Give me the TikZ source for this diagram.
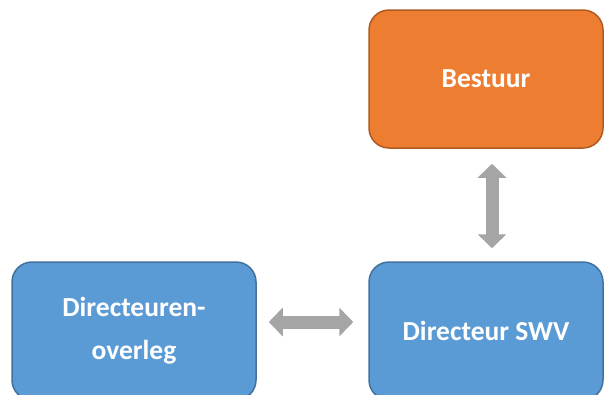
\documentclass[tikz,border=0pt]{standalone}
\usepackage{fontspec}
\setmainfont{Carlito}
\usetikzlibrary{arrows.meta}
\definecolor{orgfill}{HTML}{ED7D31}
\definecolor{orgline}{HTML}{AE5A21}
\definecolor{bluefill}{HTML}{5B9BD5}
\definecolor{blueline}{HTML}{41719C}
\definecolor{arrowgray}{HTML}{A5A5A5}
\tikzset{
  box/.style={rounded corners=20pt, line width=1.5pt, minimum height=138pt,
    align=center, text=white, font=\fontsize{27.5}{43}\selectfont\bfseries},
  orangebox/.style={box, fill=orgfill, draw=orgline, minimum width=234pt},
  bluebox/.style={box, fill=bluefill, draw=blueline},
  blockarrow/.style={arrowgray, line width=13pt,
    {Triangle[width=28pt,length=14pt]}-{Triangle[width=28pt,length=14pt]}}
}
\begin{document}
\begin{tikzpicture}[x=1pt,y=-1pt]
        % Bounding box
        \useasboundingbox (0,0) rectangle (604,394);

        % Blokken
        \node[orangebox] (bestuur) at (486,79) {Bestuur};
        \node[bluebox, minimum width=234pt] (swv) at (486,331) {Directeur SWV};
        \node[bluebox, minimum width=244pt] (overleg) at (134,331) {Directeuren-\\overleg};

        % Pijlen
        \draw[blockarrow] ([xshift=6pt,yshift=-15pt]bestuur.south) -- ([xshift=6pt,yshift=13pt]swv.north);
        \draw[blockarrow] ([xshift=12pt,yshift=9pt]overleg.east) -- ([xshift=-15pt,yshift=9pt]swv.west);
\end{tikzpicture}
\end{document}
